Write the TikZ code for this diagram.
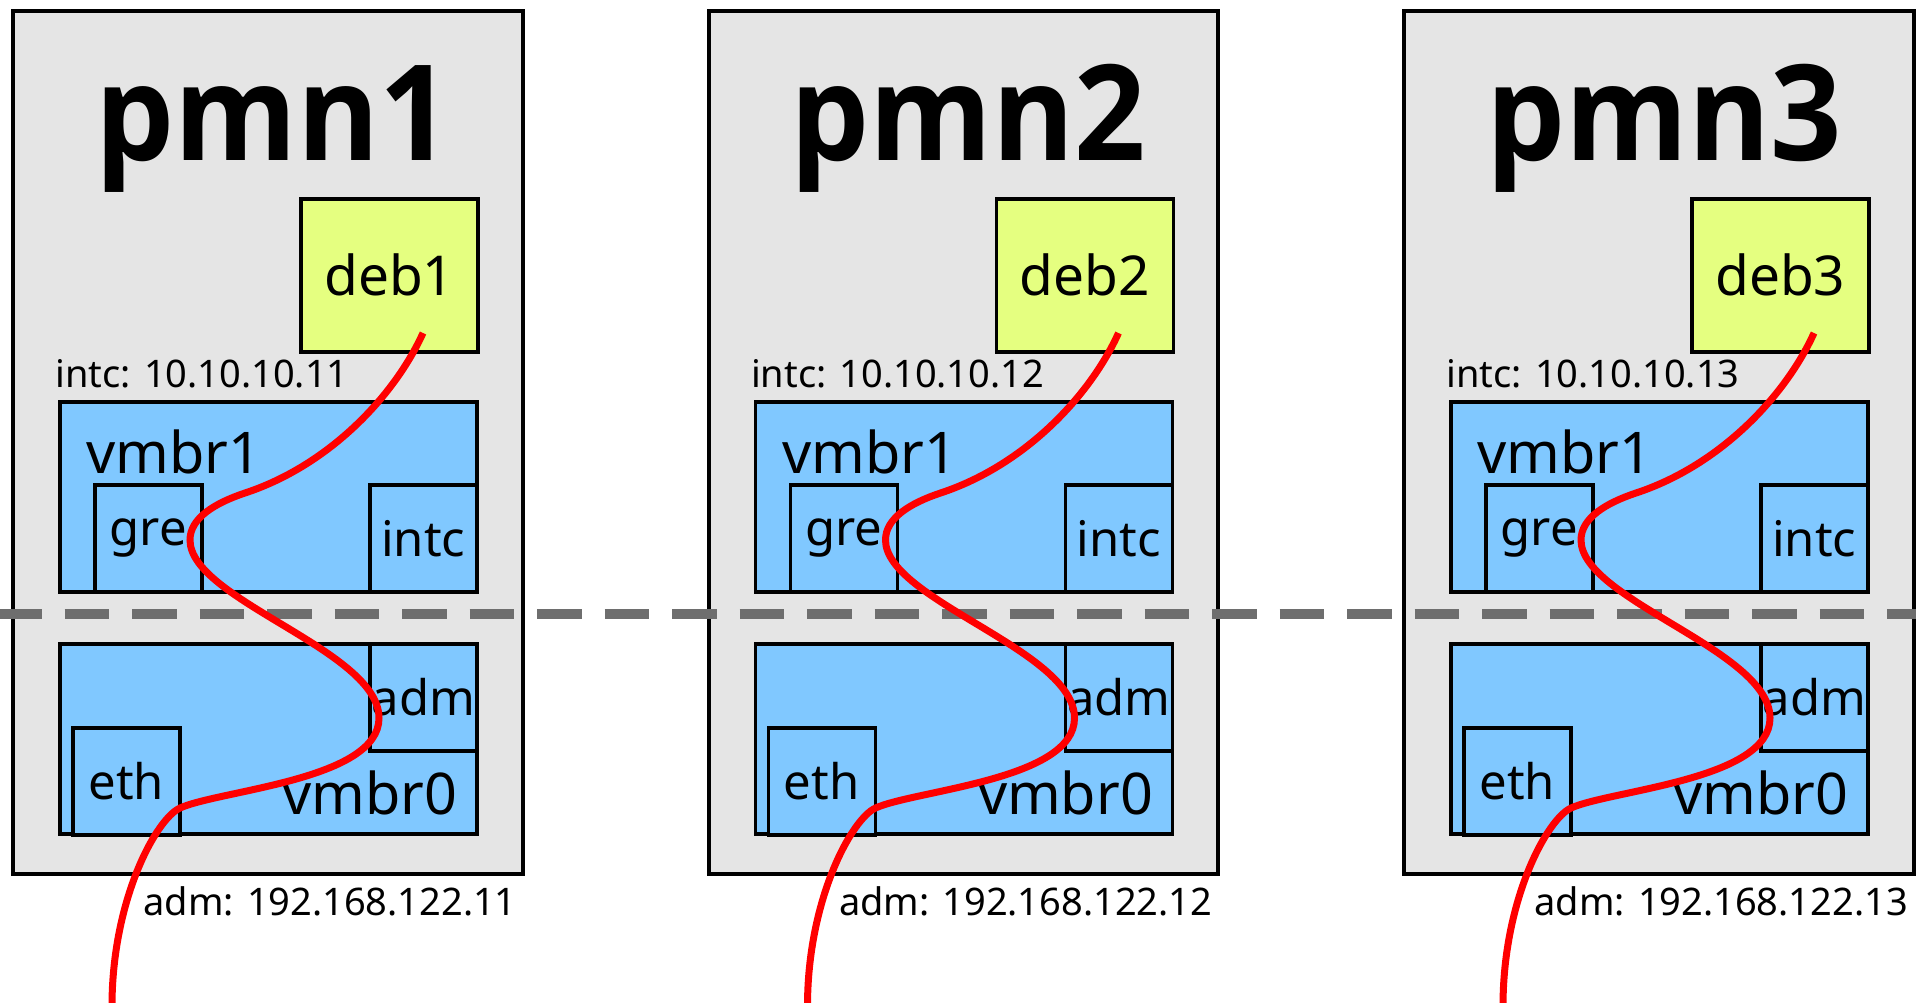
\documentclass[tikz,border=0pt]{standalone}
\usepackage{fontspec}
\setmainfont{Noto Sans}
\newfontfamily\titlefont{Open Sans}[FakeStretch=0.94]
\usetikzlibrary{positioning}
\definecolor{HostGray}{HTML}{E5E5E5}
\definecolor{DebGreen}{HTML}{E5FF80}
\definecolor{BrBlue}{HTML}{80C8FF}
\definecolor{SplitGray}{HTML}{6E6E6E}
\tikzset{
    host/.style = {draw, fill=HostGray, line width=4pt, rectangle,
        anchor=north west, inner sep=0pt,
        minimum width=509.5pt, minimum height=863.5pt},
    vm/.style = {draw, fill=DebGreen, line width=3.5pt, rectangle,
        anchor=north west, inner sep=0pt,
        minimum width=177pt, minimum height=153pt,
        font=\fontsize{55}{60}\selectfont},
    bridge/.style = {draw, fill=BrBlue, line width=3.5pt, rectangle,
        anchor=north west, inner sep=0pt,
        minimum width=417pt, minimum height=190pt},
    port/.style = {draw, fill=BrBlue, line width=3.5pt, rectangle,
        anchor=north west, inner sep=0pt, minimum size=107pt,
        font=\fontsize{49}{52}\selectfont},
    hosttitle/.style = {anchor=base, font=\titlefont\bfseries\fontsize{133}{140}\selectfont},
    brlabel/.style = {font=\fontsize{57.5}{60}\selectfont},
    addr/.style = {anchor=base west, font=\fontsize{38}{40}\selectfont},
    link/.style = {draw=red, line width=7pt},
    split/.style = {draw=SplitGray, line width=10pt, dash pattern=on 44.5pt off 23pt}
}

\begin{document}
\begin{tikzpicture}[x=1pt, y=-1pt]
    \useasboundingbox (0,0) rectangle (1916,1002);
    \foreach \i/\dx in {1/0, 2/695.5, 3/1391}{
        \begin{scope}[xshift=\dx pt]
            \node [host] (host\i) at (11,8.5) {};
            \node [hosttitle] (title\i) at (273,160) {pmn\i};
            \node [vm] (deb\i) at (299,197) {deb\i};
            \node [addr] (intcaddr\i) at (52,387) {intc: 10.10.10.1\i};
            \node [bridge] (br1-\i) at (58,400) {};
            \node [brlabel, anchor=base west] (br1txt\i) at (83,473) {vmbr1};
            \node [port] (gre\i) at (93,483) {gre};
            \node [port] (intc\i) at (368,483) {intc};
            \node [bridge] (br0-\i) at (58,642) {};
            \node [port] (adm\i) at (368,642) {adm};
            \node [port] (eth\i) at (71,726) {eth};
            \node [brlabel, anchor=base east] (br0txt\i) at (461,814) {vmbr0};
            \node [addr] (admaddr\i) at (140,915) {adm: 192.168.122.1\i};
        \end{scope}
    }
    \coordinate (cutL) at (-3,614);
    \coordinate (cutR) at (1930,614);
    \draw [split] (cutL) -- (cutR);
    % link from each vm down through the bridges
    \foreach \i/\dx in {1/0, 2/695.5, 3/1391}{
        \begin{scope}[xshift=\dx pt]
            \coordinate (tap\i) at (423,333);
            \coordinate (wire\i) at (112,1006);
            \draw [link] (tap\i) .. controls (395,395) and (330,465) .. (245,493)
                .. controls (215,503) and (190,518) .. (190,540)
                .. controls (190,600) and (379,650) .. (379,718)
                .. controls (379,780) and (220,790) .. (180,808)
                .. controls (156,819) and (112,900) .. (wire\i);
        \end{scope}
    }
\end{tikzpicture}
\end{document}
